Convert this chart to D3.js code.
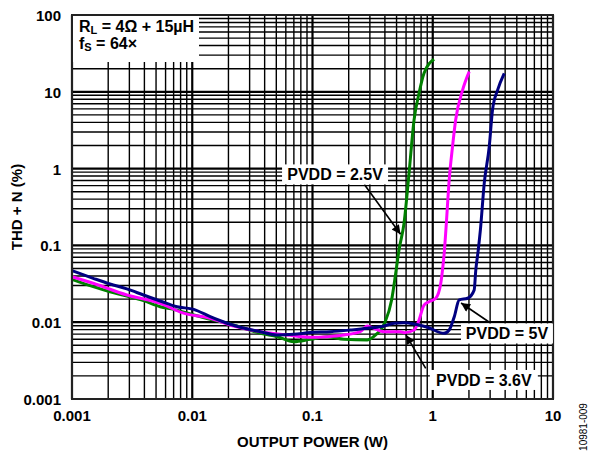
<!DOCTYPE html>
<html>
<head>
<meta charset="utf-8">
<script src="https://cdn.jsdelivr.net/npm/d3@7"></script>
<style>
	body { margin: 0; background: #fff; }
	text { font-family: Arial, "Liberation Sans", sans-serif; }
</style>
</head>
<body>
<svg id="chart" width="597" height="453"></svg>
<script>
// x tick labels / y tick labels
var xTicks = [0.001, 0.01, 0.1, 1, 10];
var yTicks = [0.001, 0.01, 0.1, 1, 10, 100];

// PVDD = 2.5V (green)
var greenP = [0.001, 0.0015, 0.00207, 0.00286, 0.00393, 0.00541, 0.00698, 0.0103, 0.0141, 0.0195, 0.0286, 0.0369, 0.0508, 0.0699, 0.0962, 0.1326, 0.1825, 0.286, 0.346, 0.369, 0.402, 0.455, 0.492, 0.524, 0.577, 0.635, 0.699, 0.769, 0.846, 1.026];
var greenV = [0.0362, 0.029, 0.0249, 0.0219, 0.0191, 0.0159, 0.0147, 0.0124, 0.0109, 0.00968, 0.00809, 0.00716, 0.00648, 0.00557, 0.00599, 0.00648, 0.00599, 0.00587, 0.00716, 0.00791, 0.0101, 0.0195, 0.0433, 0.087, 0.194, 0.869, 4.3, 9.56, 17.4, 26.5];

// PVDD = 3.6V (magenta)
var magentaP = [0.001, 0.0015, 0.00286, 0.00541, 0.00846, 0.0141, 0.0221, 0.0369, 0.0615, 0.0962, 0.1326, 0.1825, 0.251, 0.286, 0.324, 0.393, 0.541, 0.577, 0.699, 0.769, 0.846, 0.931, 1.06, 1.166, 1.2, 1.25, 1.29, 1.37, 1.46, 1.55, 1.77, 2.01];
var magentaV = [0.0391, 0.0321, 0.0226, 0.0176, 0.0131, 0.01124, 0.00893, 0.00752, 0.00681, 0.00636, 0.00648, 0.00681, 0.0076, 0.00893, 0.00833, 0.00752, 0.00752, 0.0073, 0.00791, 0.0107, 0.0167, 0.0185, 0.0205, 0.0321, 0.045, 0.085, 0.17, 0.711, 1.93, 4.3, 10.5, 18.3];

// PVDD = 5V (navy)
var blueP = [0.001, 0.0015, 0.00207, 0.00286, 0.00393, 0.00541, 0.00746, 0.0103, 0.0141, 0.0195, 0.0251, 0.0369, 0.0508, 0.0699, 0.0962, 0.141, 0.207, 0.286, 0.393, 0.476, 0.577, 0.903, 1.24, 1.37, 1.51, 1.66, 1.95, 2.21, 2.28, 2.39, 2.49, 2.68, 2.95, 3.14, 3.46, 3.93];
var blueV = [0.0469, 0.0373, 0.0314, 0.0271, 0.0226, 0.0189, 0.0159, 0.0147, 0.0118, 0.00968, 0.00859, 0.00752, 0.00681, 0.00696, 0.00734, 0.00752, 0.00791, 0.00833, 0.00893, 0.00968, 0.00986, 0.00859, 0.00716, 0.00791, 0.0118, 0.0195, 0.0205, 0.0262, 0.0478, 0.087, 0.159, 0.644, 1.93, 5.8, 10.5, 17.4];

var seriesNames = ['PVDD = 2.5V', 'PVDD = 3.6V', 'PVDD = 5V'];
var seriesColors = ['#008000', '#ff00ff', '#000080'];

var margin = {left: 72, top: 15, right: 44, bottom: 54};
var width = 597 - margin.left - margin.right;  // 481
var height = 453 - margin.top - margin.bottom; // 384

var svg = d3.select('#chart');
var g = svg.append('g').attr('transform', 'translate(' + margin.left + ',' + margin.top + ')');

var x = d3.scaleLog().domain([0.001, 10]).range([0, width]);
var y = d3.scaleLog().domain([0.001, 100]).range([height, 0]);

function isDecade(v) {
	var l = Math.log10(v);
	return Math.abs(l - Math.round(l)) < 1e-9;
}

// grid (1..9 per decade), decades drawn thicker
var xGrid = x.ticks();
var yGrid = y.ticks();
g.append('g').selectAll('line').data(xGrid).enter().append('line')
	.attr('x1', function(d) {return x(d)}).attr('x2', function(d) {return x(d)})
	.attr('y1', 0).attr('y2', height)
	.attr('stroke', '#000')
	.attr('stroke-width', function(d) {return isDecade(d) ? 2.2 : 1.4});
g.append('g').selectAll('line').data(yGrid).enter().append('line')
	.attr('y1', function(d) {return y(d)}).attr('y2', function(d) {return y(d)})
	.attr('x1', 0).attr('x2', width)
	.attr('stroke', '#000')
	.attr('stroke-width', function(d) {return isDecade(d) ? 2.2 : 1.4});

// conditions box (covers grid)
g.append('rect').attr('x', 0).attr('y', 0).attr('width', 127).attr('height', 47).attr('fill', '#fff');
var cond = g.append('text').attr('font-weight', 'bold').attr('font-size', 16);
var l1 = cond.append('tspan').attr('x', 7).attr('y', 17);
l1.append('tspan').text('R');
l1.append('tspan').attr('font-size', 11).attr('dy', 2).text('L');
l1.append('tspan').attr('dy', -2).text(' = 4\u03a9 + 15\u00b5H');
var l2 = cond.append('tspan').attr('x', 7).attr('y', 34);
l2.append('tspan').text('f');
l2.append('tspan').attr('font-size', 11).attr('dy', 2).text('S');
l2.append('tspan').attr('dy', -2).text(' = 64\u00d7');

// curves
var line = d3.line()
	.x(function(d) {return x(d[0])})
	.y(function(d) {return y(d[1])})
	.curve(d3.curveMonotoneX);
var series = [d3.zip(greenP, greenV), d3.zip(magentaP, magentaV), d3.zip(blueP, blueV)];
g.append('g').selectAll('path').data(series).enter().append('path')
	.attr('d', line)
	.attr('fill', 'none')
	.attr('stroke', function(d, i) {return seriesColors[i]})
	.attr('stroke-width', 3)
	.attr('stroke-linejoin', 'round');

// frame
g.append('rect').attr('width', width).attr('height', height)
	.attr('fill', 'none').attr('stroke', '#222').attr('stroke-width', 2);

// annotations: label box + arrow, positioned in data units
svg.append('defs').append('marker')
	.attr('id', 'head').attr('viewBox', '0 0 10 10')
	.attr('refX', 10).attr('refY', 5)
	.attr('markerWidth', 12).attr('markerHeight', 9)
	.attr('markerUnits', 'userSpaceOnUse')
	.attr('orient', 'auto')
	.append('path').attr('d', 'M0,0L10,5L0,10Z').attr('fill', '#000');

var notes = [
	{name: seriesNames[0], at: [0.154, 0.84], from: [0.27, 0.62], to: [0.54, 0.14], w: 106},
	{name: seriesNames[2], at: [4.14, 0.00713], from: [3.04, 0.0097], to: [1.72, 0.0178], w: 92},
	{name: seriesNames[1], at: [2.66, 0.00177], from: [0.874, 0.0025], to: [0.6, 0.0068], w: 108}
];
var ann = g.append('g');
notes.forEach(function(n) {
	ann.append('line')
		.attr('x1', x(n.from[0])).attr('y1', y(n.from[1]))
		.attr('x2', x(n.to[0])).attr('y2', y(n.to[1]))
		.attr('stroke', '#000').attr('stroke-width', 1.6)
		.attr('marker-end', 'url(#head)');
	ann.append('rect')
		.attr('x', x(n.at[0]) - n.w / 2).attr('y', y(n.at[1]) - 10)
		.attr('width', n.w).attr('height', 20)
		.attr('fill', '#fff');
	ann.append('text')
		.attr('x', x(n.at[0])).attr('y', y(n.at[1]) + 6)
		.attr('text-anchor', 'middle')
		.attr('font-weight', 'bold').attr('font-size', 16)
		.text(n.name);
});

// tick labels
var fmt = function(d) {return d >= 1 ? d3.format('d')(d) : String(d)};
g.append('g').selectAll('text').data(xTicks).enter().append('text')
	.attr('x', function(d) {return x(d)}).attr('y', height + 22)
	.attr('text-anchor', 'middle')
	.attr('font-weight', 'bold').attr('font-size', 15)
	.text(fmt);
g.append('g').selectAll('text').data(yTicks).enter().append('text')
	.attr('x', -11).attr('y', function(d) {return y(d) + 6})
	.attr('text-anchor', 'end')
	.attr('font-weight', 'bold').attr('font-size', 15)
	.text(fmt);

// axis titles
svg.append('text')
	.attr('x', margin.left + width / 2).attr('y', 447)
	.attr('text-anchor', 'middle')
	.attr('font-weight', 'bold').attr('font-size', 15)
	.text('OUTPUT POWER (W)');
svg.append('text')
	.attr('transform', 'translate(22,' + (margin.top + height / 2) + ') rotate(-90)')
	.attr('text-anchor', 'middle')
	.attr('font-weight', 'bold').attr('font-size', 15)
	.text('THD + N (%)');
svg.append('text')
	.attr('transform', 'translate(587,427) rotate(-90)')
	.attr('text-anchor', 'middle')
	.attr('font-size', 10)
	.text('10981-009');
</script>
</body>
</html>
